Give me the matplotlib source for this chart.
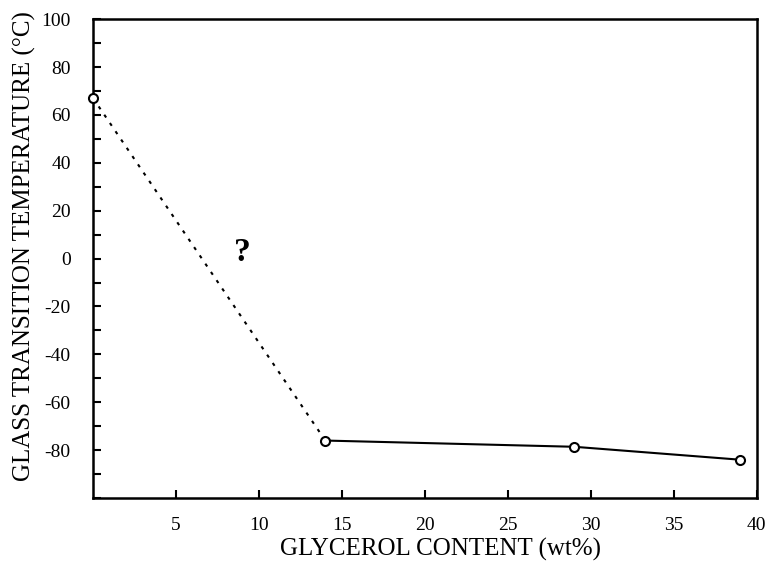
import matplotlib
matplotlib.use("Agg")
import matplotlib.pyplot as plt
from matplotlib.ticker import MultipleLocator

glycerol = [0, 14, 29, 39]
tg = [67, -76, -78.6, -84]
xticks = [5, 10, 15, 20, 25, 30, 35, 40]
yticks = [100, 80, 60, 40, 20, 0, -20, -40, -60, -80]

plt.rcParams['font.family'] = ['Liberation Serif', 'DejaVu Serif']

fig = plt.figure(figsize=(7.69, 5.64), dpi=100)
ax = fig.add_axes([0.121, 0.117, 0.863, 0.849])

ax.plot(glycerol[:2], tg[:2], color='black', lw=1.5, linestyle=(0, (1.6, 3.2)))
ax.plot(glycerol[1:], tg[1:], color='black', lw=1.5)
ax.plot(glycerol, tg, linestyle='none', marker='o', markersize=6.5,
        markerfacecolor='white', markeredgecolor='black', markeredgewidth=1.5, zorder=5,
        clip_on=False)

ax.text(9.0, 2.5, '?', fontsize=24, fontweight='bold', ha='center', va='center')

ax.set_xlim(0, 40)
ax.set_ylim(-100, 100)
ax.set_xticks(xticks)
ax.set_xticklabels([str(v) for v in xticks])
ax.set_yticks(yticks)
ax.set_yticklabels([str(v) for v in yticks])
ax.yaxis.set_minor_locator(MultipleLocator(10))
ax.tick_params(axis='both', which='both', direction='in', top=False, right=False,
               labelsize=14, width=1.5)
ax.tick_params(axis='both', which='major', length=6)
ax.tick_params(axis='x', which='major', pad=14)
ax.tick_params(axis='y', which='major', pad=16)
ax.tick_params(axis='y', which='minor', length=6)
for s in ax.spines.values():
    s.set_linewidth(1.8)

ax.set_xlabel('GLYCEROL CONTENT (wt%)', fontsize=18)
ax.set_ylabel('GLASS TRANSITION TEMPERATURE (°C)', fontsize=18)
ax.xaxis.set_label_coords(0.524, -0.083)
ax.yaxis.set_label_coords(-0.086, 0.526)

fig.savefig('out.png', dpi=100)
